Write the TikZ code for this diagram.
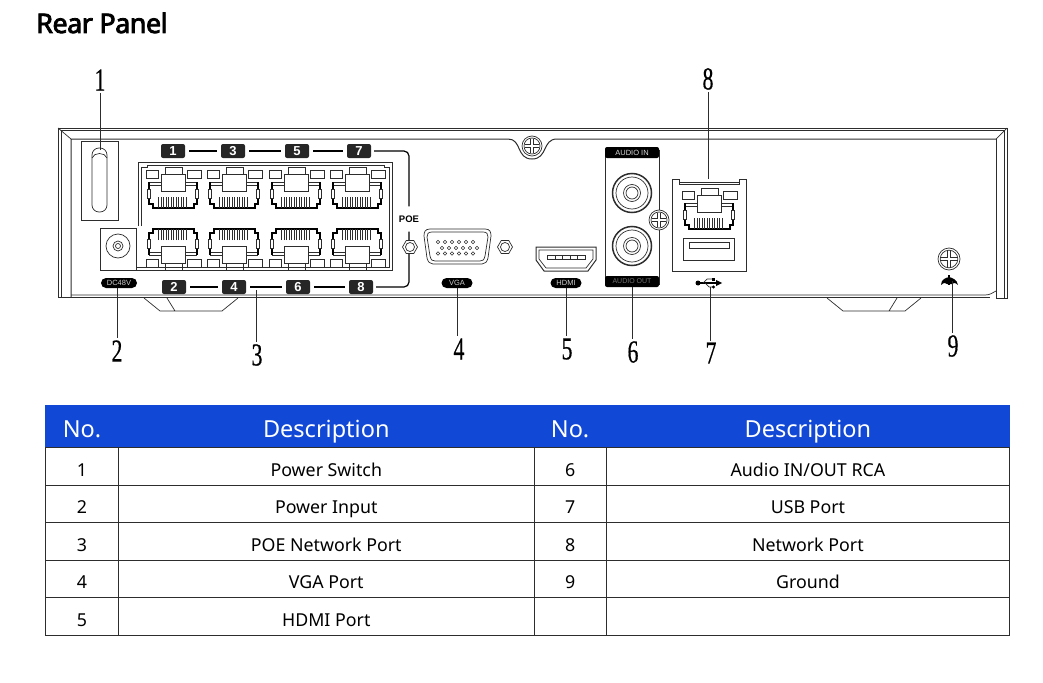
\documentclass[tikz,border=0pt]{standalone}
\usepackage{fontspec}
\setmainfont{Noto Sans}
\newfontfamily\numfont[FakeBold=0.6]{Liberation Serif}
\newfontfamily\tagfont{Liberation Sans}
\newfontfamily\headfont[LetterSpace=-2,FakeBold=3]{Noto Sans}
\usetikzlibrary{matrix,positioning,calc}
\definecolor{tabblue}{RGB}{18,72,214}
\definecolor{ink}{RGB}{45,45,45}
\newcommand{\callnum}[1]{\scalebox{0.68}[1]{\numfont\fontsize{32}{32}\selectfont #1}}
\begin{document}
\begin{tikzpicture}[x=1pt,y=-1pt,line join=miter,
   wire/.style={draw=ink,line width=0.7pt},
   edge/.style={draw=ink,line width=1pt},
   heavy/.style={draw=black,line width=1.2pt},
   lead/.style={draw=ink,line width=0.8pt},
   num/.style={inner sep=1pt,outer sep=1pt},
   tag/.style={fill=black!85,rounded corners=2pt,text=white,minimum width=24pt,minimum height=14pt,
     inner sep=0pt,font=\tagfont\bfseries\fontsize{13}{13}\selectfont},
   pill/.style={fill=black,rounded corners=5pt,text=white!80!black,minimum width=#1,minimum height=10pt,
     inner sep=0pt,font=\tagfont\fontsize{7.5}{8}\selectfont},
   pill/.default=31pt,
   tabmat/.style={matrix of nodes,nodes in empty cells,inner sep=0pt,
     column sep=-0.8pt,row sep=-0.8pt,
     nodes={draw=ink,line width=0.8pt,anchor=center,inner sep=0pt,text height=24pt,text depth=4pt,
       minimum height=37.5pt,font=\fontsize{17.8}{20}\selectfont},
     column 1/.style={nodes={minimum width=72.8pt}},
     column 2/.style={nodes={minimum width=415.8pt}},
     column 3/.style={nodes={minimum width=71.8pt}},
     column 4/.style={nodes={minimum width=403.8pt}},
     row 1/.style={nodes={draw=tabblue,fill=tabblue,text=white,minimum height=41.8pt,text height=26pt,text depth=5pt,
       font=\fontsize{23.5}{28}\selectfont}}},
   jack/.pic={
     \draw[wire] (-27,-18) rectangle (-15,-10) (14,-18) rectangle (28,-10);
     \draw[wire] (-8,-21) rectangle (9,-14) (-12,-14) rectangle (12,3);
     \draw[wire] (-24,-6) -- (-12,-6) (-24,-3) -- (-12,-3) (12,-6) -- (24,-6) (12,-3) -- (24,-3);
     \draw[heavy] (-24,-6) -- (-24,16) -- (-20,16) -- (-20,20) -- (21,20) -- (21,16) -- (24,16) -- (24,-6);
     \draw[wire,fill=white] (-25.5,1) rectangle (-22.5,10) (22.5,1) rectangle (25.5,10);
     \foreach \P in {-14.5,-12,...,14} {\draw[line width=0.9pt,draw=ink] (\P,9) -- (\P,20);}
   },
   screw/.pic={
     \draw[wire,fill=white] (0,0) circle (10) (0,0) circle (8);
     \draw[wire] (-7,-1.5) -- (-1.5,-1.5) -- (-1.5,-7) (1.5,-7) -- (1.5,-1.5) -- (7,-1.5)
       (7,1.5) -- (1.5,1.5) -- (1.5,7) (-1.5,7) -- (-1.5,1.5) -- (-7,1.5);
   },
   nut/.pic={
     \draw[wire,fill=white] (0:7.5) -- (60:7.5) -- (120:7.5) -- (180:7.5) -- (240:7.5) -- (300:7.5) -- cycle;
     \draw[wire] (0,0) circle (4.5);
   },
   rca/.pic={
     \draw[line width=1.5pt,draw=ink] (0,0) circle (19.5);
     \draw[wire] (0,0) circle (16) (0,0) circle (8.5) (0,0) circle (6);
   }]
 \useasboundingbox (0,0) rectangle (1043,682);
 \node[anchor=base west,inner sep=0pt,font=\headfont\fontsize{27}{28}\selectfont] (title) at (36,33) {Rear Panel};

 % chassis
 \draw[edge] (58,297) -- (58,128) -- (1007,128) -- (1007,298) -- (996,298) -- (996,139);
 \draw[wire] (61,297) -- (61,130) -- (1004,130) -- (1004,298);
 \draw[wire] (58,128) -- (71,139) (1007,128) -- (996,139);
 \draw[edge] (71,297) -- (71,139) -- (508,139) .. controls (522,139) and (516,159) .. (532,159)
   .. controls (548,159) and (542,139) .. (557,139) -- (996,139);
 \draw[edge] (58,297) -- (990,297);
 \draw[wire] (71,295) -- (985,295) .. controls (990,295) and (992,293) .. (996,291);
 % feet
 \draw[wire] (144,298) -- (160,311) -- (222,311) -- (238,298) (167,298) -- (175,311);
 \draw[wire] (827,298) -- (843,311) -- (905,311) -- (921,298) (897,298) -- (889,311);
 \pic at (532,146) {screw};

 % switch and power
 \draw[wire] (81,141) rectangle (118,220);
 \draw[wire,rounded corners=7pt] (92,148) rectangle (107,212);
 \draw[wire] (92,158) .. controls (94,152) and (105,152) .. (107,158);
 \draw[wire] (100,228) rectangle (136,270);
 \draw[wire] (118,246) circle (12) (118,246) circle (5) (118,246) circle (2.5);
 \node[pill=36pt] (dc) at (119,283) {DC48V};

 % poe ports
 \draw[edge] (138,226) -- (138,162) -- (392,162) -- (392,270) -- (136,270);
 \draw[wire] (141,226) -- (141,167) -- (147,167) -- (147,165) -- (384,165) -- (384,167) -- (389,167) -- (389,267) -- (136,267);
 \foreach \X in {173,234,296,357} {
   \pic at (\X,188) {jack};
   \pic[yscale=-1] at (\X,249) {jack};
 }
 \foreach \N/\X in {1/173,3/233,5/297,7/359} {\node[tag] (tag\N) at (\X,151) {\N};}
 \foreach \N/\X in {2/174,4/234,6/298,8/361} {\node[tag] (tag\N) at (\X,287) {\N};}
 \node[inner sep=0pt,minimum height=25pt,font=\tagfont\bfseries\fontsize{9.5}{10}\selectfont] (poe) at (409,219) {POE};
 \foreach \A/\B in {1/3,3/5,5/7,2/4,4/6,6/8} {\draw[heavy,shorten <=4pt,shorten >=4pt] (tag\A) -- (tag\B);}
 \draw[heavy,rounded corners=5pt,shorten <=3pt] (tag7.east) -| (poe.north);
 \draw[heavy,rounded corners=5pt,shorten <=3pt] (tag8.east) -| (poe.south);
 \pic at (410,247) {nut};

 % vga
 \draw[wire] (430,229) -- (485,229) .. controls (490,229) and (491,232) .. (491,236) -- (488,258)
   .. controls (487,262) and (485,264) .. (482,264) -- (433,264) .. controls (430,264) and (428,262) .. (427,258)
   -- (424,236) .. controls (424,232) and (425,229) .. (430,229) -- cycle;
 \draw[wire] (432,232) -- (483,232) .. controls (487,232) and (488,234) .. (488,237) -- (485,256)
   .. controls (484,260) and (483,261) .. (480,261) -- (435,261) .. controls (432,261) and (431,260) .. (430,256)
   -- (427,237) .. controls (427,234) and (428,232) .. (432,232) -- cycle;
 \foreach \X in {0,...,5} {
   \draw[wire,line width=0.5pt] (438+\X*7,242) circle (1.8) (442+\X*7,248) circle (1.8) (438+\X*7,253.5) circle (1.8);
 }
 \pic at (505,247) {nut};
 \node[pill] (vga) at (457,283) {VGA};

 % hdmi
 \draw[edge] (536,247) -- (596,247) -- (596,260) -- (588,271) -- (544,271) -- (536,260) -- cycle;
 \draw[wire] (539,250) -- (593,250) -- (593,259) -- (586,268) -- (546,268) -- (539,259) -- cycle;
 \draw[wire] (547,255) rectangle (585,259);
 \foreach \X in {555,562,570,577} {\draw[wire] (\X,255) -- (\X,259);}
 \node[pill] (hdmi) at (566,283) {HDMI};

 % audio
 \draw[edge] (605,150) rectangle (659,284);
 \node[fill=black,rounded corners=2pt,text=white!85!black,minimum width=54pt,minimum height=11pt,inner sep=0pt,
   font=\tagfont\fontsize{7.5}{8}\selectfont] (ain) at (632,152.5) {AUDIO IN};
 \node[fill=black,rounded corners=2pt,text=black!55,minimum width=54pt,minimum height=11pt,inner sep=0pt,
   font=\tagfont\fontsize{7}{8}\selectfont] (aout) at (632,281.5) {AUDIO OUT};
 \pic at (632,193) {rca};
 \pic at (632,246) {rca};
 \pic at (659,220) {screw};

 % lan and usb
 \draw[edge] (672,271) -- (672,179) -- (679,179) -- (679,184) -- (739,184) -- (739,179) -- (746,179) -- (746,271) -- cycle;
 \draw[wire] (679,182) -- (739,182);
 \pic at (709,209) {jack};
 \draw[edge] (683,238) rectangle (734,260);
 \draw[wire] (689,242) rectangle (729,248);
 % usb mark
 \draw[heavy] (698,283) -- (718,283);
 \fill (698,283) circle (2.5);
 \fill (716,280) -- (722,283) -- (716,286) -- cycle;
 \draw[wire] (703,283) -- (707,279) -- (713,279) (705,283) -- (709,287) -- (713,287);
 \fill (712,277.5) rectangle (715,280.5);
 \fill (713.5,287) circle (1.6);

 % ground
 \pic[scale=1.1] at (949,259) {screw};
 \fill (941,285) .. controls (941,279) and (946,278) .. (949,277) .. controls (952,278) and (957,279) .. (958,285)
   .. controls (955,282) and (953,283) .. (952,284) -- (947,284) .. controls (946,283) and (944,282) .. (941,285) -- cycle;
 \draw[heavy,line width=1.5pt] (949,275) -- (949,285);

 % callouts
 \coordinate (tip1) at (100,150);
 \coordinate (tip2) at (117,288);
 \coordinate (tip3) at (256,290);
 \coordinate (tip4) at (457,288);
 \coordinate (tip5) at (566,288);
 \coordinate (tip6) at (632,287);
 \coordinate (tip7) at (710,287);
 \coordinate (tip8) at (708,179);
 \coordinate (tip9) at (952,281);
 \foreach \N/\X/\Y in {1/100/80,2/117/351,3/257/355,4/459/349,5/567/349,6/633/352,7/711/353,8/708/79,9/953/346} {
   \node[num] (num\N) at (\X,\Y) {\callnum{\N}};
 }
 \foreach \N in {2,3,4,5,6,7,9} {\draw[lead] (tip\N) -- (tip\N |- num\N.north);}
 \foreach \N in {1,8} {\draw[lead] (tip\N) -- (tip\N |- num\N.south);}

 % table
 \matrix[tabmat,anchor=north west] (tab) at (45,405) {
   No. & Description & No. & Description \\
   1 & Power Switch & 6 & Audio IN/OUT RCA \\
   2 & Power Input & 7 & USB Port \\
   3 & POE Network Port & 8 & Network Port \\
   4 & VGA Port & 9 & Ground \\
   5 & HDMI Port & & \\
 };
\end{tikzpicture}
\end{document}
